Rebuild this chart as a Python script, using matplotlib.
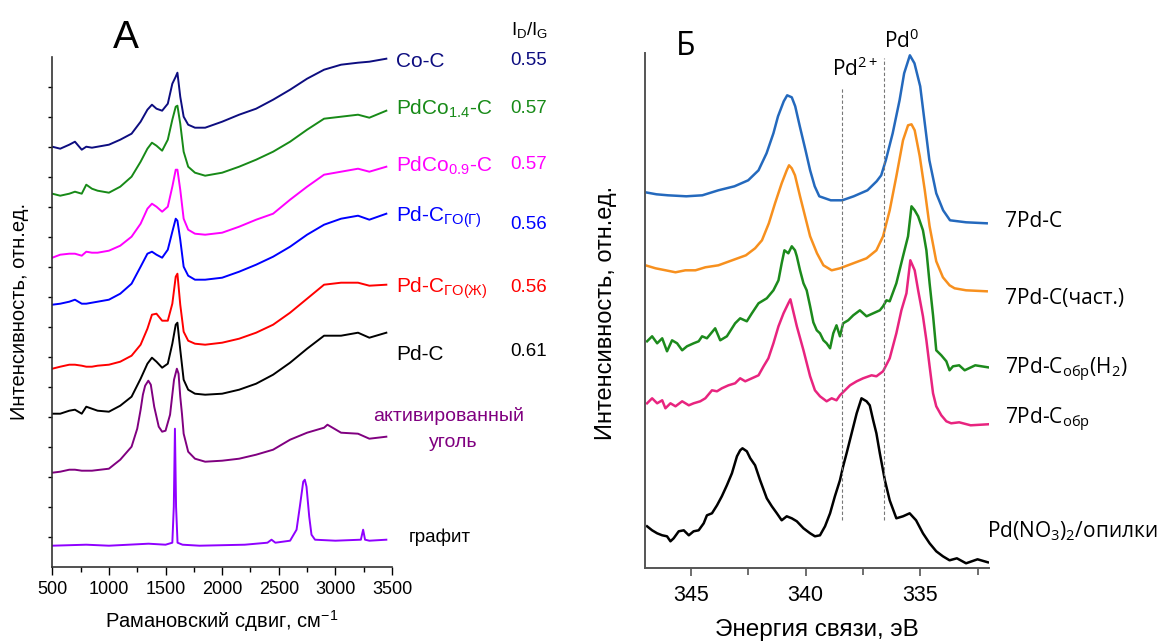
import matplotlib
matplotlib.use("Agg")
import matplotlib.pyplot as plt

W, H = 1160, 642

plt.rcParams["font.family"] = ["Liberation Sans", "DejaVu Sans"]
plt.rcParams["mathtext.default"] = "regular"

# -----------------------------------------------
# A: Raman spectra (shift, cm-1 / intensity with offsets, a.u.)
# -----------------------------------------------
A_X = [500, 570, 650, 700, 760, 800, 850, 900, 1000, 1100, 1200, 1280, 1340, 1380,
       1420, 1470, 1520, 1560, 1590, 1605, 1630, 1660, 1700, 1760, 1850, 2000, 2150,
       2300, 2450, 2600, 2750, 2900, 3050, 3200, 3300, 3450]
CO_C = [420, 418, 422, 425, 417, 420, 419, 420, 422, 427, 433, 445, 457, 462, 458, 456,
        463, 483, 490, 494, 470, 450, 442, 439, 439, 445, 452, 458, 467, 477, 488, 497,
        502, 504, 505, 508]
PDCO14 = [373, 371, 373, 375, 373, 382, 378, 376, 374, 380, 390, 405, 418, 424, 421, 416,
          427, 447, 460, 461, 443, 415, 400, 394, 391, 394, 400, 407, 415, 425, 437, 448,
          450, 452, 449, 456]
PDCO09 = [309, 312, 313, 313, 311, 315, 314, 314, 316, 321, 330, 343, 358, 363, 360, 355,
          360, 380, 397, 397, 377, 348, 337, 333, 332, 334, 340, 347, 353, 367, 380, 392,
          395, 398, 395, 400]
PDC_G = [262, 263, 265, 267, 263, 263, 264, 265, 267, 273, 283, 300, 313, 315, 312, 309,
         317, 335, 348, 346, 327, 300, 291, 287, 287, 289, 295, 302, 310, 320, 332, 342,
         348, 351, 347, 353]
PDC_L = [198, 200, 202, 202, 201, 200, 200, 201, 202, 205, 211, 222, 238, 252, 253, 246,
         246, 263, 290, 293, 262, 235, 226, 223, 222, 224, 228, 234, 242, 254, 268, 282,
         284, 284, 281, 282]
PDC = [153, 153, 156, 157, 153, 160, 158, 156, 155, 161, 170, 188, 203, 209, 205, 199,
       203, 223, 242, 244, 217, 187, 177, 173, 172, 173, 177, 183, 192, 204, 218, 231,
       231, 234, 229, 234]

AC_X = [500, 570, 650, 700, 760, 850, 1000, 1100, 1200, 1250, 1280, 1300, 1320, 1348,
        1370, 1400, 1440, 1470, 1500, 1540, 1575, 1600, 1615, 1630, 1645, 1660, 1700,
        1760, 1850, 2000, 2150, 2300, 2450, 2600, 2750, 2900, 2930, 3050, 3200, 3300, 3450]
AC_Y = [94, 95, 97, 97, 96, 96, 98, 107, 120, 138, 157, 172, 181, 186, 182, 160, 140,
        135, 136, 152, 187, 198, 193, 170, 153, 133, 115, 108, 105, 106, 108, 112, 117,
        127, 134, 139, 142, 134, 133, 128, 130]

GR_X = [500, 800, 1000, 1350, 1500, 1560, 1573, 1583, 1593, 1606, 1650, 1800, 2200, 2400,
        2436, 2470, 2600, 2657, 2686, 2716, 2730, 2745, 2769, 2789, 2820, 3000, 3225,
        3245, 3262, 3300, 3450]
GR_Y = [21, 22, 21, 23, 22, 24, 60, 138, 60, 24, 22, 21, 22, 24, 27, 24, 26, 37, 60, 85,
        87, 80, 50, 32, 27, 26, 27, 37, 27, 26, 27]

A_NAMES = ["Co-C", "PdCo$_{1.4}$-C", "PdCo$_{0.9}$-C", "Pd-C$_{ГО(Г)}$", "Pd-C$_{ГО(Ж)}$", "Pd-C"]
A_RATIO = ["0.55", "0.57", "0.57", "0.56", "0.56", "0.61"]
A_COLORS = ["#0d0d80", "#178a17", "#ff00ff", "#0000ff", "#ff0000", "#000000"]

# -----------------------------------------------
# Б: XPS Pd 3d (binding energy, eV / intensity with offsets, a.u.)
# -----------------------------------------------
B1_X = [346.98, 346.5, 346.0, 345.2, 344.5, 343.8, 343.1, 342.5, 342.05, 341.7, 341.4,
        341.2, 340.95, 340.8, 340.6, 340.45, 340.25, 340.0, 339.8, 339.6, 339.4, 338.9,
        338.4, 337.9, 337.3, 336.9, 336.7, 336.5, 336.2, 335.9, 335.7, 335.45, 335.25,
        335.0, 334.8, 334.6, 334.3, 334.0, 333.7, 333.0, 332.1]
B1_Y = [376, 374, 373, 372, 373, 378, 382, 388, 398, 415, 435, 452, 467, 473, 471, 462,
        442, 418, 398, 382, 372, 368, 368, 372, 378, 387, 393, 408, 435, 468, 495, 513,
        505, 482, 445, 408, 375, 358, 348, 346, 345]

B2_X = [346.98, 346.54, 346.1, 345.67, 345.24, 344.8, 344.37, 343.8, 343.2, 342.6, 342.2,
        341.9, 341.6, 341.33, 341.04, 340.82, 340.72, 340.6, 340.46, 340.24, 340.02, 339.8,
        339.5, 339.22, 338.86, 338.5, 337.92, 337.34, 336.91, 336.62, 336.33, 336.04,
        335.75, 335.53, 335.38, 335.24, 335.02, 334.8, 334.59, 334.3, 334.01, 333.72,
        333.5, 333.0, 332.1]
B2_Y = [303, 300, 298, 296, 298, 298, 301, 303, 308, 313, 320, 328, 345, 365, 385, 398,
        403, 400, 393, 372, 352, 332, 315, 303, 298, 300, 305, 310, 318, 332, 358, 392,
        428, 443, 444, 438, 412, 378, 342, 307, 291, 283, 280, 278, 277]

B3_X = [346.91, 346.69, 346.47, 346.25, 346.04, 345.82, 345.6, 345.38, 345.17, 344.88,
        344.66, 344.51, 344.3, 343.94, 343.72, 343.43, 343.07, 342.85, 342.56, 342.34,
        342.05, 341.69, 341.4, 341.18, 341.04, 340.92, 340.75, 340.6, 340.46, 340.38,
        340.24, 340.09, 339.95, 339.8, 339.66, 339.51, 339.37, 339.22, 339.08, 338.93,
        338.79, 338.65, 338.5, 338.36, 338.14, 337.92, 337.63, 337.34, 337.05, 336.76,
        336.62, 336.47, 336.33, 336.04, 335.75, 335.53, 335.38, 335.24, 335.09, 334.88,
        334.73, 334.59, 334.44, 334.3, 334.08, 333.86, 333.72, 333.57, 333.3, 333.06,
        332.6, 332.05]
B3_Y = [227, 232, 225, 230, 217, 228, 225, 218, 222, 225, 227, 232, 230, 240, 228, 232,
        245, 250, 247, 255, 265, 270, 278, 288, 305, 318, 315, 322, 318, 312, 298, 285,
        278, 262, 246, 238, 235, 228, 225, 220, 235, 243, 232, 245, 248, 253, 258, 252,
        255, 258, 262, 268, 267, 285, 312, 332, 362, 358, 352, 338, 318, 285, 253, 218,
        213, 207, 198, 202, 203, 198, 203, 201]

B4_X = [346.91, 346.69, 346.47, 346.25, 346.11, 345.89, 345.67, 345.38, 345.09, 344.88,
        344.59, 344.37, 344.08, 343.86, 343.65, 343.36, 343.07, 342.85, 342.63, 342.34,
        342.05, 341.83, 341.62, 341.4, 341.18, 340.96, 340.75, 340.66, 340.38, 340.09,
        339.8, 339.59, 339.37, 339.08, 338.86, 338.65, 338.5, 338.28, 338.06, 337.77,
        337.49, 337.12, 336.91, 336.62, 336.33, 336.04, 335.82, 335.6, 335.43, 335.24,
        335.09, 334.88, 334.73, 334.59, 334.44, 334.3, 334.08, 333.86, 333.65, 333.3,
        332.8, 332.05]
B4_Y = [165, 170, 165, 168, 160, 165, 162, 167, 163, 165, 167, 170, 178, 177, 180, 183,
        185, 190, 187, 190, 193, 202, 210, 225, 242, 255, 265, 269, 242, 218, 192, 178,
        172, 167, 170, 168, 173, 178, 183, 187, 190, 193, 192, 197, 210, 235, 258, 275,
        308, 298, 278, 252, 228, 202, 175, 162, 153, 147, 145, 146, 143, 144]

B5_X = [346.91, 346.69, 346.47, 346.25, 346.04, 345.89, 345.75, 345.53, 345.31, 345.09,
        344.88, 344.66, 344.44, 344.3, 344.08, 343.86, 343.65, 343.43, 343.21, 342.99,
        342.85, 342.75, 342.56, 342.41, 342.2, 341.98, 341.69, 341.47, 341.25, 341.04,
        340.82, 340.6, 340.38, 340.09, 339.8, 339.59, 339.37, 339.15, 338.93, 338.72,
        338.5, 338.36, 338.21, 337.99, 337.77, 337.56, 337.34, 337.2, 337.05, 336.91,
        336.76, 336.54, 336.33, 336.04, 335.75, 335.46, 335.18, 334.88, 334.59, 334.3,
        334.01, 333.72, 333.4, 333.0, 332.5, 332.05]
B5_Y = [42, 38, 35, 33, 32, 27, 30, 37, 38, 33, 37, 38, 45, 53, 55, 63, 72, 83, 95, 112,
        118, 120, 117, 110, 103, 88, 70, 62, 55, 48, 52, 50, 47, 40, 35, 32, 33, 42, 55,
        72, 88, 102, 115, 135, 155, 170, 167, 163, 148, 135, 115, 88, 68, 50, 52, 55, 48,
        35, 25, 17, 12, 8, 10, 5, 9, 6]

B_NAMES = ["7Pd-C", "7Pd-C(част.)", "7Pd-C$_{обр}$(H$_2$)", "7Pd-C$_{обр}$",
           "Pd(NO$_3$)$_2$/опилки"]
B_COLORS = ["#2469bd", "#f7901e", "#1c8a1c", "#e8247f", "#000000"]
PD2_E, PD0_E = 338.4, 336.6

CALIBRI = ["Open Sans", "DejaVu Sans"]


def ftext(px, py, s, **kw):
    """Text placed in figure pixels (origin top-left)."""
    return fig.text(px / W, 1 - py / H, s, **kw)


fig = plt.figure(figsize=(W / 100, H / 100), dpi=100)
fig.patch.set_facecolor("white")

# ---------------- panel A ----------------
axA = fig.add_axes([52.3 / W, 1 - 566.7 / H, 339.7 / W, 510 / H])
for ys, c in zip([CO_C, PDCO14, PDCO09, PDC_G, PDC_L, PDC], A_COLORS):
    axA.plot(A_X, ys, color=c, lw=1.4)
axA.plot(AC_X, AC_Y, color="#800080", lw=1.4)
axA.plot(GR_X, GR_Y, color="#8f00ff", lw=1.4)

axA.set_xlim(500, 3500)
axA.set_ylim(0, 510)
axA.set_xticks(range(500, 3501, 500))
axA.set_xticks(range(750, 3500, 500), minor=True)
axA.set_yticks(range(30, 481, 30))
axA.tick_params(axis="x", which="major", length=6, width=1, labelsize=13, pad=4)
axA.tick_params(axis="x", which="minor", length=3.5, width=1)
axA.tick_params(axis="y", length=3, width=1, labelleft=False)
for s in ["top", "right"]:
    axA.spines[s].set_visible(False)
for s in ["left", "bottom"]:
    axA.spines[s].set_color("#333333")
    axA.spines[s].set_linewidth(1.2)

ftext(126, 48, "A", fontsize=28, ha="center", va="baseline")
ftext(530, 35, "I$_D$/I$_G$", fontsize=13.5, ha="center", va="baseline")
a_base = [67, 115, 172, 222, 293, 360]
r_base = [65, 113, 169, 229, 292, 356]
for name, ratio, c, yb, yr in zip(A_NAMES, A_RATIO, A_COLORS, a_base, r_base):
    ftext(396, yb, name, fontsize=15, color=c, ha="left", va="baseline")
    ftext(529, yr, ratio, fontsize=13.5, color=c, ha="center", va="baseline")
ftext(449, 421, "активированный", fontsize=14, color="#800080", ha="center", va="baseline")
ftext(453, 447, "уголь", fontsize=14, color="#800080", ha="center", va="baseline")
ftext(440, 542, "графит", fontsize=13.5, color="black", ha="center", va="baseline")
ftext(20, 311, "Интенсивность, отн.ед.", fontsize=14.5, rotation=90, ha="center", va="center")
ftext(222, 621, "Рамановский сдвиг, см$^{-1}$", fontsize=14.5, ha="center", va="center")

# ---------------- panel Б ----------------
axB = fig.add_axes([645 / W, 1 - 568.3 / H, 344 / W, 515 / H])
for xs, ys, c in zip([B1_X, B2_X, B3_X, B4_X, B5_X], [B1_Y, B2_Y, B3_Y, B4_Y, B5_Y], B_COLORS):
    axB.plot(xs, ys, color=c, lw=1.8)
axB.vlines(PD2_E, 48, 480, colors="#777777", linestyles=(0, (3, 2)), lw=0.8)
axB.vlines(PD0_E, 48, 510, colors="#777777", linestyles=(0, (3, 2)), lw=0.8)

axB.set_xlim(347, 332)
axB.set_ylim(0, 515)
axB.set_xticks([345, 340, 335])
axB.set_xticks([342.5, 337.5, 332.5], minor=True)
axB.set_yticks([])
axB.tick_params(axis="x", which="major", length=6, width=1.2, labelsize=15.5, pad=6,
                color="#555555")
axB.tick_params(axis="x", which="minor", length=5, width=1.2, color="#555555")
for s in ["top", "right"]:
    axB.spines[s].set_visible(False)
for s in ["left", "bottom"]:
    axB.spines[s].set_color("#555555")
    axB.spines[s].set_linewidth(1.4)

ftext(686, 55, "Б", fontsize=23, family=CALIBRI, ha="center", va="baseline")
ftext(884, 48, "Pd$^0$", fontsize=15, family=CALIBRI, ha="left", va="baseline")
ftext(832, 76, "Pd$^{2+}$", fontsize=15, family=CALIBRI, ha="left", va="baseline")
b_base = [227, 304, 374, 424, 537]
b_left = [1005, 1005, 1005, 1005, 987]
for name, yb, xl in zip(B_NAMES, b_base, b_left):
    ftext(xl, yb, name, fontsize=15, family=CALIBRI, ha="left", va="baseline")
ftext(606, 313, "Интенсивность, отн.ед.", fontsize=17, rotation=90, ha="center", va="center")
ftext(817, 630, "Энергия связи, эВ", fontsize=17.5, ha="center", va="center")

fig.savefig("out.png", dpi=100, facecolor="white")
